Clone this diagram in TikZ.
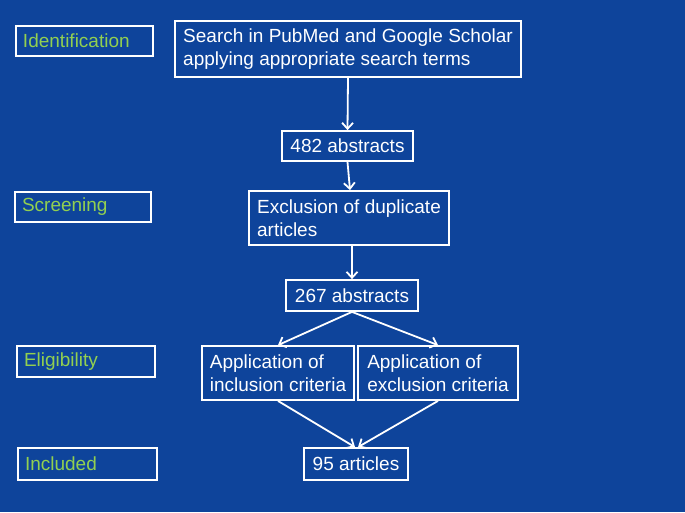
\documentclass[tikz,border=0pt]{standalone}
\usepackage{fontspec}
\setmainfont{Liberation Sans}
\usetikzlibrary{arrows.meta}
\definecolor{bgblue}{RGB}{14,68,155}
\definecolor{stagegreen}{RGB}{146,208,80}
\begin{document}
\begin{tikzpicture}[x=1pt,y=-1pt,
  box/.style={draw=white, line width=1.8pt, text=white, rectangle, inner xsep=7pt, inner ysep=2pt,
    font=\fontsize{19}{23.5}\selectfont, align=left},
  stage/.style={box, text=stagegreen, minimum height=30pt},
  arr/.style={draw=white, line width=1.8pt, -{Straight Barb[length=6pt,width=11pt,line width=1.8pt]}}]
\fill[bgblue] (0,0) rectangle (685,512);
\useasboundingbox (0,0) rectangle (685,512);
% stage labels
\node[stage, minimum width=137pt, text width=123pt] (ident) at (84.5,41) {Identification};
\node[stage, minimum width=136pt, text width=122pt] (screen) at (83,207) {Screening};
\node[stage, minimum width=138pt, text width=124pt, minimum height=31pt] (elig) at (86,361.5) {Eligibility};
\node[stage, minimum width=139pt, text width=125pt, minimum height=32pt] (incd) at (87.5,464) {Included};
% flow boxes
\node[box, minimum width=346pt, minimum height=56pt] (search) at (348,49) {Search in PubMed and Google Scholar\\applying appropriate search terms};
\node[box, align=center, minimum width=131pt, minimum height=30pt] (a482) at (347.5,146) {482 abstracts};
\node[box, minimum width=200pt, minimum height=54pt] (dup) at (349,218) {Exclusion of duplicate\\articles\hphantom{ of duplicate}};
\node[box, align=center, minimum width=132pt, minimum height=31pt] (a267) at (352,295.5) {267 abstracts};
\node[box, minimum width=152pt, minimum height=54pt, inner xsep=4pt] (incl) at (278,373) {Application of\\inclusion criteria};
\node[box, minimum width=160pt, minimum height=54pt, inner xsep=4pt] (excl) at (438,373) {Application of\\exclusion criteria};
\node[box, align=center, minimum width=104pt, minimum height=32pt] (a95) at (356,464) {95 articles};
% connectors
\draw[arr] (search.south) -- (a482.north);
\draw[arr] (a482.south) -- ([xshift=1pt]dup.north);
\draw[arr] ([xshift=3pt]dup.south) -- (a267.north);
\draw[arr] (a267.south) -- (incl.north);
\draw[arr] (a267.south) -- (excl.north);
\draw[arr] (incl.south) -- ([xshift=-1pt]a95.north);
\draw[arr] (excl.south) -- ([xshift=2pt]a95.north);
\end{tikzpicture}
\end{document}
